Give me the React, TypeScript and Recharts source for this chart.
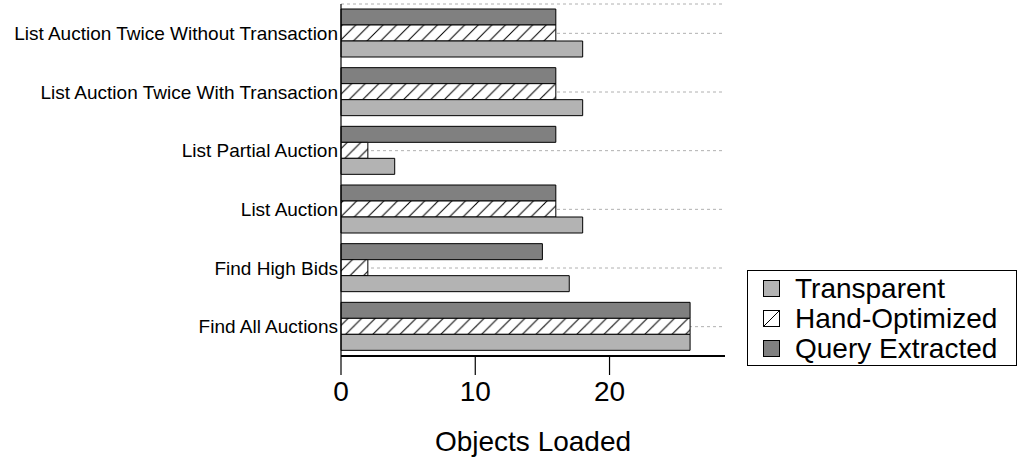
import { Bar, BarChart, CartesianGrid, XAxis, YAxis } from "recharts";

// categories listed top to bottom as they appear on the chart
const categories = [
  "List Auction Twice Without Transaction",
  "List Auction Twice With Transaction",
  "List Partial Auction",
  "List Auction",
  "Find High Bids",
  "Find All Auctions",
];
const transparent = [18, 18, 4, 18, 17, 26];
const handOptimized = [16, 16, 2, 16, 2, 26];
const queryExtracted = [16, 16, 16, 16, 15, 26];
const xTicks = [0, 10, 20];

const FONT = "'Liberation Sans', Arial, Helvetica, sans-serif";
const LIGHT = "#b3b3b3";
const DARK = "#808080";

const data = categories.map((name, i) => ({
  name,
  transparent: transparent[i],
  handOptimized: handOptimized[i],
  queryExtracted: queryExtracted[i],
}));

const legendItems = [
  { label: "Transparent", kind: "light" },
  { label: "Hand-Optimized", kind: "hatch" },
  { label: "Query Extracted", kind: "dark" },
];

function LegendBox() {
  return (
    <div
      style={{
        position: "absolute",
        left: 747,
        top: 270,
        border: "1px solid #000",
        width: 270,
        height: 96,
        boxSizing: "border-box",
        padding: "3px 0 0 15px",
        fontFamily: FONT,
        fontSize: 28,
        lineHeight: "30px",
        color: "#000",
        background: "#fff",
      }}
    >
      {legendItems.map((it) => (
        <div key={it.label} style={{ display: "flex", alignItems: "center", height: 30 }}>
          <svg width={18} height={18} style={{ marginRight: 14, flex: "none" }}>
            <rect
              x={0.5}
              y={0.5}
              width={16}
              height={16}
              fill={it.kind === "light" ? LIGHT : it.kind === "dark" ? DARK : "#fff"}
              stroke="#000"
              strokeWidth={1}
            />
            {it.kind === "hatch" && <line x1={1} y1={16} x2={16} y2={1} stroke="#000" strokeWidth={1} />}
          </svg>
          <span>{it.label}</span>
        </div>
      ))}
    </div>
  );
}

export default function App() {
  return (
    <div style={{ position: "absolute", left: 0, top: 0, width: 1026, height: 459, background: "#fff" }}>
      <BarChart
        width={1026}
        height={459}
        data={data}
        layout="vertical"
        margin={{ top: 4, right: 301, bottom: 0, left: 0 }}
        barSize={16}
        barGap={0}
      >
        <defs>
          <pattern id="hatch" patternUnits="userSpaceOnUse" width={13.6} height={13.6}>
            <rect width={13.6} height={13.6} fill="#fff" />
            <line x1={0} y1={13.6} x2={13.6} y2={0} stroke="#000" strokeWidth={1} />
            <line x1={-3} y1={3} x2={3} y2={-3} stroke="#000" strokeWidth={1} />
            <line x1={10.6} y1={16.6} x2={16.6} y2={10.6} stroke="#000" strokeWidth={1} />
          </pattern>
        </defs>
        <CartesianGrid horizontal vertical={false} stroke="#b0b0b0" strokeDasharray="3 3" />
        <XAxis
          type="number"
          domain={[0, 28.6]}
          ticks={xTicks}
          height={103}
          tickSize={19}
          tickMargin={6}
          axisLine={{ stroke: "#000", strokeWidth: 2 }}
          tickLine={{ stroke: "#000", strokeWidth: 1.2 }}
          tick={{ fill: "#000", fontSize: 28, fontFamily: FONT }}
          label={(props: any) => {
            const vb = props.viewBox;
            return (
              <text
                x={vb.x + vb.width / 2}
                y={vb.y + 95}
                textAnchor="middle"
                fill="#000"
                fontSize={28}
                fontFamily={FONT}
              >
                Objects Loaded
              </text>
            );
          }}
        />
        <YAxis
          type="category"
          dataKey="name"
          width={341}
          tickLine={false}
          tickSize={0}
          tickMargin={3}
          interval={0}
          axisLine={{ stroke: "#000", strokeWidth: 1.2 }}
          tick={{ fill: "#000", fontSize: 19, fontFamily: FONT }}
        />
        <Bar dataKey="queryExtracted" fill={DARK} stroke="#000" strokeWidth={1} isAnimationActive={false} />
        <Bar dataKey="handOptimized" fill="url(#hatch)" stroke="#000" strokeWidth={1} isAnimationActive={false} />
        <Bar dataKey="transparent" fill={LIGHT} stroke="#000" strokeWidth={1} isAnimationActive={false} />
      </BarChart>
      <LegendBox />
    </div>
  );
}
